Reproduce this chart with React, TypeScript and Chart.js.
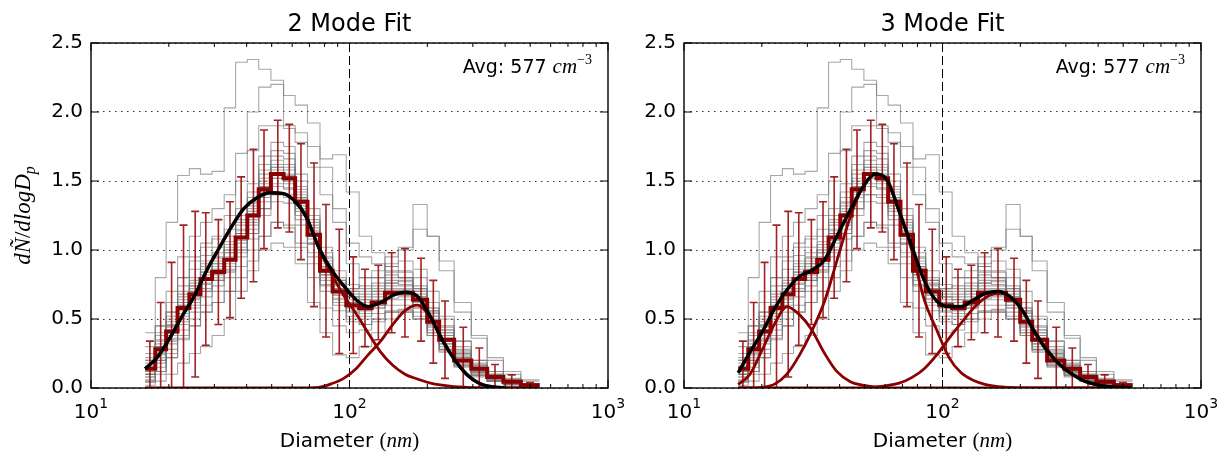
import React, { useEffect, useRef } from "react";
import { Chart, registerables } from "chart.js";
Chart.register(...registerables);

// ---------- data ----------
const binCenters = [16.9, 18.6, 20.5, 22.8, 25.3, 27.8, 31.1, 34.5, 38.1, 42.5, 46.7, 52.8, 58.5, 64.9, 72.9, 81.1, 91.3, 103.4, 114.8, 129.3, 145.6, 163.9, 189.1, 211.0, 234.1, 275.5, 317.8, 365.5, 424.2, 499.2];
const binFirstEdge = 16.2;
const binLastEdge = 543;

const meanValues = [0.14, 0.28, 0.41, 0.58, 0.68, 0.79, 0.84, 0.93, 1.09, 1.25, 1.44, 1.55, 1.52, 1.35, 1.11, 0.85, 0.70, 0.60, 0.58, 0.62, 0.69, 0.69, 0.64, 0.48, 0.35, 0.20, 0.14, 0.08, 0.045, 0.02];
const meanErrors = [0.20, 0.34, 0.50, 0.60, 0.60, 0.48, 0.38, 0.42, 0.44, 0.48, 0.43, 0.39, 0.39, 0.42, 0.52, 0.48, 0.45, 0.35, 0.28, 0.27, 0.29, 0.32, 0.30, 0.30, 0.28, 0.24, 0.15, 0.09, 0.05, 0.02];

const greyO1 = [0.40, 0.80, 1.20, 1.54, 1.59, 1.55, 1.57, 2.03, 2.36, 2.38, 2.31, 2.23, 1.90, 1.85, 1.75, 1.66, 1.69, 1.42, 1.10, 0.98, 0.85, 0.80, 0.72, 0.58, 0.45, 0.30, 0.18, 0.10, 0.05, 0.03];
const greyO2 = [0.20, 0.45, 0.70, 0.95, 1.10, 1.20, 1.30, 1.40, 1.70, 2.00, 2.18, 2.20, 2.12, 2.05, 1.92, 1.60, 1.30, 1.05, 0.95, 0.90, 0.88, 0.85, 0.80, 0.62, 0.50, 0.34, 0.20, 0.12, 0.06, 0.03];
const greyO3 = [0.10, 0.30, 0.55, 0.80, 0.95, 1.05, 1.10, 1.25, 1.50, 1.72, 1.90, 1.90, 1.88, 1.78, 1.60, 1.40, 1.20, 0.90, 0.80, 0.80, 0.90, 1.00, 1.33, 1.10, 0.85, 0.55, 0.36, 0.20, 0.10, 0.05];
const greyO4 = [0.05, 0.12, 0.22, 0.35, 0.45, 0.55, 0.62, 0.70, 0.88, 1.00, 1.10, 1.20, 1.18, 1.05, 0.90, 0.75, 0.70, 0.72, 0.80, 0.85, 0.95, 1.02, 1.15, 1.10, 0.92, 0.62, 0.38, 0.22, 0.12, 0.06];
const greyL1 = [0.02, 0.05, 0.10, 0.18, 0.25, 0.30, 0.38, 0.50, 0.70, 0.85, 1.00, 1.05, 1.02, 0.90, 0.62, 0.40, 0.24, 0.22, 0.30, 0.40, 0.50, 0.55, 0.50, 0.40, 0.28, 0.17, 0.10, 0.05, 0.03, 0.01];
const greyL2 = [0.04, 0.10, 0.22, 0.36, 0.45, 0.55, 0.62, 0.70, 0.80, 0.92, 1.10, 1.20, 1.16, 1.02, 0.80, 0.58, 0.45, 0.40, 0.42, 0.48, 0.55, 0.56, 0.50, 0.38, 0.27, 0.16, 0.09, 0.05, 0.03, 0.01];
const greyN1 = [0.10, 0.22, 0.36, 0.50, 0.62, 0.72, 0.80, 0.88, 1.00, 1.15, 1.35, 1.48, 1.45, 1.30, 1.05, 0.80, 0.65, 0.55, 0.52, 0.58, 0.65, 0.66, 0.58, 0.45, 0.32, 0.19, 0.11, 0.06, 0.03, 0.02];
const greyN2 = [0.20, 0.35, 0.48, 0.66, 0.78, 0.88, 0.95, 1.02, 1.18, 1.35, 1.55, 1.65, 1.62, 1.42, 1.18, 0.92, 0.76, 0.66, 0.64, 0.68, 0.76, 0.75, 0.66, 0.52, 0.38, 0.24, 0.14, 0.08, 0.05, 0.03];
const greyN3 = [0.05, 0.15, 0.28, 0.42, 0.55, 0.66, 0.74, 0.84, 0.98, 1.12, 1.30, 1.40, 1.38, 1.22, 0.98, 0.74, 0.60, 0.52, 0.50, 0.54, 0.60, 0.60, 0.55, 0.42, 0.30, 0.18, 0.10, 0.05, 0.03, 0.01];
const greyN4 = [0.25, 0.40, 0.55, 0.74, 0.86, 0.96, 1.02, 1.10, 1.25, 1.42, 1.62, 1.72, 1.70, 1.50, 1.25, 0.98, 0.80, 0.70, 0.68, 0.72, 0.80, 0.80, 0.70, 0.56, 0.42, 0.27, 0.16, 0.09, 0.05, 0.03];
const greyN5 = [0.12, 0.30, 0.44, 0.62, 0.72, 0.84, 0.90, 1.00, 1.15, 1.28, 1.48, 1.60, 1.55, 1.38, 1.14, 0.88, 0.72, 0.62, 0.60, 0.64, 0.72, 0.72, 0.64, 0.50, 0.36, 0.22, 0.13, 0.07, 0.04, 0.02];
const greyN6 = [0.08, 0.20, 0.35, 0.52, 0.64, 0.75, 0.82, 0.90, 1.05, 1.20, 1.40, 1.52, 1.48, 1.32, 1.08, 0.82, 0.67, 0.58, 0.56, 0.60, 0.67, 0.67, 0.60, 0.46, 0.34, 0.20, 0.11, 0.06, 0.04, 0.02];
const greyN7 = [0.18, 0.32, 0.46, 0.64, 0.74, 0.86, 0.92, 1.00, 1.14, 1.32, 1.50, 1.60, 1.58, 1.40, 1.16, 0.90, 0.74, 0.64, 0.62, 0.66, 0.74, 0.74, 0.66, 0.52, 0.38, 0.23, 0.13, 0.08, 0.05, 0.03];
const greyN8 = [0.15, 0.26, 0.40, 0.56, 0.66, 0.78, 0.86, 0.94, 1.10, 1.22, 1.42, 1.52, 1.50, 1.36, 1.12, 0.86, 0.70, 0.60, 0.58, 0.62, 0.70, 0.70, 0.62, 0.48, 0.35, 0.21, 0.12, 0.07, 0.04, 0.02];
const greyN9 = [0.30, 0.45, 0.62, 0.80, 0.92, 1.02, 1.08, 1.15, 1.30, 1.48, 1.68, 1.78, 1.75, 1.55, 1.30, 1.02, 0.85, 0.75, 0.72, 0.76, 0.84, 0.84, 0.74, 0.58, 0.44, 0.28, 0.17, 0.10, 0.06, 0.03];
const greyN10 = [0.06, 0.12, 0.25, 0.38, 0.50, 0.60, 0.70, 0.80, 0.95, 1.08, 1.25, 1.35, 1.34, 1.18, 0.95, 0.70, 0.56, 0.48, 0.46, 0.50, 0.56, 0.57, 0.52, 0.40, 0.28, 0.16, 0.09, 0.05, 0.02, 0.01];
const greyN11 = [0.14, 0.25, 0.45, 0.60, 0.70, 0.82, 0.88, 0.98, 1.12, 1.30, 1.46, 1.58, 1.54, 1.38, 1.12, 0.88, 0.72, 0.66, 0.64, 0.70, 0.76, 0.78, 0.70, 0.55, 0.40, 0.25, 0.15, 0.09, 0.05, 0.02];
const greyN12 = [0.22, 0.38, 0.52, 0.70, 0.80, 0.92, 0.98, 1.06, 1.22, 1.38, 1.58, 1.68, 1.66, 1.46, 1.22, 0.95, 0.78, 0.68, 0.66, 0.70, 0.78, 0.77, 0.68, 0.54, 0.40, 0.25, 0.15, 0.09, 0.05, 0.03];
const greyN13 = [0.10, 0.18, 0.32, 0.46, 0.58, 0.70, 0.78, 0.86, 1.02, 1.18, 1.38, 1.46, 1.44, 1.28, 1.04, 0.78, 0.64, 0.56, 0.54, 0.58, 0.64, 0.64, 0.58, 0.44, 0.32, 0.19, 0.11, 0.06, 0.03, 0.02];
const greyN14 = [0.16, 0.34, 0.50, 0.68, 0.76, 0.90, 0.94, 1.04, 1.20, 1.34, 1.52, 1.62, 1.60, 1.44, 1.20, 0.94, 0.78, 0.70, 0.70, 0.74, 0.82, 0.80, 0.72, 0.56, 0.42, 0.26, 0.16, 0.10, 0.06, 0.03];
const greyN15 = [0.08, 0.24, 0.38, 0.54, 0.65, 0.76, 0.83, 0.92, 1.07, 1.24, 1.42, 1.54, 1.50, 1.34, 1.10, 0.84, 0.68, 0.58, 0.56, 0.60, 0.68, 0.68, 0.60, 0.47, 0.34, 0.20, 0.12, 0.07, 0.04, 0.02];
const greyN16 = [0.12, 0.28, 0.42, 0.60, 0.70, 0.80, 0.86, 0.95, 1.12, 1.26, 1.46, 1.56, 1.53, 1.37, 1.13, 0.87, 0.71, 0.62, 0.60, 0.63, 0.71, 0.71, 0.63, 0.49, 0.36, 0.22, 0.13, 0.07, 0.04, 0.02];
const greyR1 = [0.10, 0.20, 0.34, 0.48, 0.60, 0.70, 0.78, 0.85, 1.00, 1.12, 1.30, 1.40, 1.40, 1.25, 1.05, 0.85, 0.75, 0.72, 0.74, 0.80, 0.88, 0.92, 0.86, 0.70, 0.52, 0.34, 0.20, 0.12, 0.07, 0.03];
const greyR2 = [0.15, 0.30, 0.45, 0.62, 0.74, 0.84, 0.90, 0.98, 1.12, 1.26, 1.45, 1.55, 1.52, 1.36, 1.10, 0.82, 0.62, 0.50, 0.46, 0.50, 0.55, 0.55, 0.50, 0.38, 0.26, 0.15, 0.08, 0.05, 0.03, 0.01];
const greyTraces = [greyO1, greyO2, greyO3, greyO4, greyL1, greyL2, greyN1, greyN2, greyN3, greyN4, greyN5, greyN6, greyN7, greyN8, greyN9, greyN10, greyN11, greyN12, greyN13, greyN14, greyN15, greyN16, greyR1, greyR2];

const fitDiameters = [16.2, 18, 20, 22.5, 25, 28, 31, 35, 39, 44, 49, 55, 61, 68, 76, 85, 95, 106, 118, 132, 147, 164, 183, 204, 228, 254, 284, 317, 354, 395, 441, 492, 540];
const fit2Total = [0.14, 0.22, 0.35, 0.52, 0.66, 0.85, 1.00, 1.17, 1.30, 1.38, 1.415, 1.41, 1.36, 1.24, 1.02, 0.86, 0.74, 0.64, 0.59, 0.62, 0.67, 0.695, 0.665, 0.53, 0.35, 0.21, 0.10, 0.035, 0.01, 0.002, null, null, null];
const fit2ModeA = [0.14, 0.22, 0.35, 0.52, 0.66, 0.85, 1.00, 1.17, 1.30, 1.38, 1.415, 1.41, 1.36, 1.24, 1.015, 0.83, 0.67, 0.54, 0.40, 0.26, 0.165, 0.10, 0.065, 0.037, 0.02, 0.01, 0.005, 0.002, 0.001, 0, 0, 0, 0];
const fit2ModeB = [0, 0, 0, 0, 0, 0, 0, 0, 0, 0, 0, 0, 0, 0.001, 0.005, 0.03, 0.07, 0.14, 0.24, 0.34, 0.46, 0.56, 0.60, 0.52, 0.36, 0.21, 0.095, 0.035, 0.01, 0.002, 0, 0, 0];
const fit3Total = [0.11, 0.26, 0.40, 0.58, 0.71, 0.81, 0.85, 0.93, 1.10, 1.29, 1.45, 1.55, 1.51, 1.28, 1.03, 0.78, 0.63, 0.59, 0.59, 0.64, 0.685, 0.70, 0.66, 0.56, 0.40, 0.27, 0.17, 0.10, 0.05, 0.025, 0.01, 0.004, 0.002];
const fit3ModeA = [0.025, 0.10, 0.27, 0.47, 0.59, 0.53, 0.43, 0.25, 0.12, 0.045, 0.02, 0.006, 0.002, 0, 0, 0, 0, 0, 0, 0, 0, 0, 0, 0, 0, 0, 0, 0, 0, 0, 0, 0, 0];
const fit3ModeB = [0, 0, 0.005, 0.03, 0.10, 0.24, 0.40, 0.63, 0.92, 1.24, 1.45, 1.55, 1.50, 1.28, 1.00, 0.64, 0.42, 0.22, 0.11, 0.055, 0.025, 0.01, 0.004, 0, 0, 0, 0, 0, 0, 0, 0, 0, 0];
const fit3ModeC = [0, 0, 0, 0, 0, 0, 0, 0, 0, 0.001, 0.003, 0.008, 0.018, 0.035, 0.075, 0.14, 0.24, 0.36, 0.47, 0.58, 0.655, 0.69, 0.66, 0.56, 0.41, 0.28, 0.17, 0.10, 0.05, 0.022, 0.01, 0.004, 0.002];

const yTickValues = [0, 0.5, 1.0, 1.5, 2.0, 2.5];
const xMajorTicks = [10, 100, 1000];
const xMajorExponents = ["1", "2", "3"];
const xMinorTicks = [20, 30, 40, 50, 60, 70, 80, 90, 200, 300, 400, 500, 600, 700, 800, 900];
const cutoffDiameter = 100;
const avgConcentration = "577";
const panelTitles = ["2 Mode Fit", "3 Mode Fit"];

// ---------- helpers ----------
const DARKRED = "rgb(139,0,0)";
const SANS = "'DejaVu Sans'";
const SERIF = "'Liberation Serif'";

function binEdges(): number[] {
  const e = [binFirstEdge];
  for (let i = 0; i < binCenters.length - 1; i++) e.push(Math.sqrt(binCenters[i] * binCenters[i + 1]));
  e.push(binLastEdge);
  return e;
}
function stepPoints(vals: number[]) {
  const e = binEdges();
  const pts: { x: number; y: number }[] = [];
  vals.forEach((v, i) => {
    pts.push({ x: e[i], y: v });
    pts.push({ x: e[i + 1], y: v });
  });
  return pts;
}
function curvePoints(vals: (number | null)[]) {
  return fitDiameters.map((d, i) => ({ x: d, y: vals[i] }));
}

type Run = { t: string; f: string; dy?: number };
function drawRuns(ctx: CanvasRenderingContext2D, runs: Run[], x: number, y: number, align: "left" | "center" | "right") {
  let w = 0;
  for (const r of runs) {
    ctx.font = r.f;
    w += ctx.measureText(r.t).width;
  }
  let cx = align === "left" ? x : align === "center" ? x - w / 2 : x - w;
  ctx.textAlign = "left";
  ctx.textBaseline = "alphabetic";
  for (const r of runs) {
    ctx.font = r.f;
    ctx.fillText(r.t, cx, y + (r.dy || 0));
    cx += ctx.measureText(r.t).width;
  }
}

function makeDeco(title: string, showYLabel: boolean) {
  return {
    id: "deco",
    beforeDatasetsDraw(chart: any) {
      const { ctx, chartArea, scales } = chart;
      const px = scales.x.getPixelForValue(cutoffDiameter);
      ctx.save();
      ctx.strokeStyle = "#000";
      ctx.lineWidth = 1;
      ctx.setLineDash([9, 4]);
      ctx.beginPath();
      ctx.moveTo(px, chartArea.top);
      ctx.lineTo(px, chartArea.bottom);
      ctx.stroke();
      ctx.restore();
    },
    beforeDatasetDraw(chart: any, args: any) {
      const ds = chart.data.datasets[args.index];
      if (!ds.isMean) return;
      const { ctx, chartArea, scales } = chart;
      ctx.save();
      ctx.beginPath();
      ctx.rect(chartArea.left, chartArea.top, chartArea.right - chartArea.left, chartArea.bottom - chartArea.top);
      ctx.clip();
      ctx.strokeStyle = "rgba(150,12,12,0.9)";
      ctx.lineWidth = 1.6;
      const cap = 4;
      binCenters.forEach((d, i) => {
        const x = scales.x.getPixelForValue(d);
        const yt = scales.y.getPixelForValue(meanValues[i] + meanErrors[i]);
        const yb = scales.y.getPixelForValue(meanValues[i] - meanErrors[i]);
        ctx.beginPath();
        ctx.moveTo(x, yt);
        ctx.lineTo(x, yb);
        ctx.moveTo(x - cap, yt);
        ctx.lineTo(x + cap, yt);
        ctx.moveTo(x - cap, yb);
        ctx.lineTo(x + cap, yb);
        ctx.stroke();
      });
      ctx.restore();
    },
    afterDraw(chart: any) {
      const { ctx, chartArea, scales } = chart;
      const { left, right, top, bottom } = chartArea;
      ctx.save();
      ctx.strokeStyle = "#000";
      ctx.lineWidth = 1.4;
      ctx.strokeRect(left, top, right - left, bottom - top);
      ctx.lineWidth = 1;
      ctx.beginPath();
      xMajorTicks.forEach((v) => {
        const x = scales.x.getPixelForValue(v);
        ctx.moveTo(x, bottom); ctx.lineTo(x, bottom - 8);
        ctx.moveTo(x, top); ctx.lineTo(x, top + 8);
      });
      xMinorTicks.forEach((v) => {
        const x = scales.x.getPixelForValue(v);
        ctx.moveTo(x, bottom); ctx.lineTo(x, bottom - 4);
        ctx.moveTo(x, top); ctx.lineTo(x, top + 4);
      });
      yTickValues.forEach((v) => {
        const y = scales.y.getPixelForValue(v);
        ctx.moveTo(left, y); ctx.lineTo(left + 8, y);
        ctx.moveTo(right, y); ctx.lineTo(right - 8, y);
      });
      ctx.stroke();
      ctx.fillStyle = "#000";
      xMajorTicks.forEach((v, i) => {
        const x = scales.x.getPixelForValue(v);
        drawRuns(ctx, [
          { t: "10", f: `20px ${SANS}` },
          { t: xMajorExponents[i], f: `14px ${SANS}`, dy: -10 },
        ], x, bottom + 30, "center");
      });
      const cx = (left + right) / 2;
      drawRuns(ctx, [{ t: title, f: `24px ${SANS}` }], cx, top - 12, "center");
      drawRuns(ctx, [
        { t: "Diameter ", f: `20px ${SANS}` },
        { t: "(", f: `21px ${SERIF}` },
        { t: "nm", f: `italic 21px ${SERIF}` },
        { t: ")", f: `21px ${SERIF}` },
      ], cx, bottom + 59, "center");
      drawRuns(ctx, [
        { t: `Avg: ${avgConcentration} `, f: `19px ${SANS}` },
        { t: "cm", f: `italic 21px ${SERIF}` },
        { t: "\u22123", f: `14px ${SERIF}`, dy: -9 },
      ], right - 16, top + 30, "right");
      if (showYLabel) {
        ctx.translate(30, (top + bottom) / 2);
        ctx.rotate(-Math.PI / 2);
        drawRuns(ctx, [
          { t: "d\u00D1", f: `italic 23px ${SERIF}` },
          { t: "/", f: `23px ${SERIF}` },
          { t: "dlogD", f: `italic 23px ${SERIF}` },
          { t: "p", f: `italic 16px ${SERIF}`, dy: 5 },
        ], 0, 0, "center");
      }
      ctx.restore();
    },
  };
}

type PanelProps = {
  canvasLeft: number;
  canvasWidth: number;
  plotLeft: number;
  plotRight: number;
  title: string;
  total: (number | null)[];
  modes: number[][];
  showYLabel: boolean;
};

function Panel(p: PanelProps) {
  const ref = useRef<HTMLCanvasElement>(null);
  useEffect(() => {
    const canvas = ref.current!;
    const datasets: any[] = [];
    datasets.push({
      data: curvePoints(p.total), borderColor: "#000", borderWidth: 3.4, pointRadius: 0,
      cubicInterpolationMode: "monotone", order: 0, spanGaps: false,
    });
    p.modes.forEach((m) =>
      datasets.push({
        data: curvePoints(m), borderColor: DARKRED, borderWidth: 2.8, pointRadius: 0,
        cubicInterpolationMode: "monotone", order: 1,
      })
    );
    datasets.push({
      data: stepPoints(meanValues), borderColor: DARKRED, borderWidth: 4, pointRadius: 0,
      tension: 0, order: 2, isMean: true, borderJoinStyle: "miter",
    });
    greyTraces.forEach((g) =>
      datasets.push({
        data: stepPoints(g), borderColor: "rgba(115,115,115,0.62)", borderWidth: 1.1, pointRadius: 0,
        tension: 0, order: 3,
      })
    );
    const chart = new Chart(canvas, {
      type: "line",
      data: { datasets },
      options: {
        animation: false,
        responsive: false,
        maintainAspectRatio: false,
        events: [],
        layout: { padding: { left: 0, top: 43, right: p.canvasWidth - p.plotRight, bottom: 67 } },
        plugins: { legend: { display: false }, tooltip: { enabled: false }, title: { display: false } },
        scales: {
          x: {
            type: "logarithmic", min: 10, max: 1000,
            ticks: { display: false }, grid: { display: false }, border: { display: false },
            afterFit: (s: any) => { s.height = 0; },
          },
          y: {
            type: "linear", min: 0, max: 2.5,
            ticks: {
              stepSize: 0.5, color: "#000", padding: 8,
              font: { family: "DejaVu Sans", size: 20 },
              callback: (v: any) => Number(v).toFixed(1),
            },
            grid: { color: "#333", lineWidth: 1, drawTicks: false },
            border: { display: false, dash: [1.5, 4.5] },
            afterFit: (s: any) => { s.width = p.plotLeft; },
          },
        },
      } as any,
      plugins: [makeDeco(p.title, p.showYLabel) as any],
    });
    return () => chart.destroy();
  }, []);
  return (
    <canvas
      ref={ref}
      width={p.canvasWidth}
      height={455}
      style={{ position: "absolute", left: p.canvasLeft, top: 0, width: p.canvasWidth, height: 455 }}
    />
  );
}

export default function App() {
  useEffect(() => {
    document.body.style.margin = "0";
  }, []);
  return (
    <div style={{ position: "absolute", left: 0, top: 0, width: 1223, height: 455, background: "#fff", overflow: "hidden" }}>
      <Panel canvasLeft={0} canvasWidth={640} plotLeft={91} plotRight={608} title={panelTitles[0]}
        total={fit2Total} modes={[fit2ModeA, fit2ModeB]} showYLabel={true} />
      <Panel canvasLeft={600} canvasWidth={623} plotLeft={84} plotRight={601} title={panelTitles[1]}
        total={fit3Total} modes={[fit3ModeA, fit3ModeB, fit3ModeC]} showYLabel={false} />
    </div>
  );
}
